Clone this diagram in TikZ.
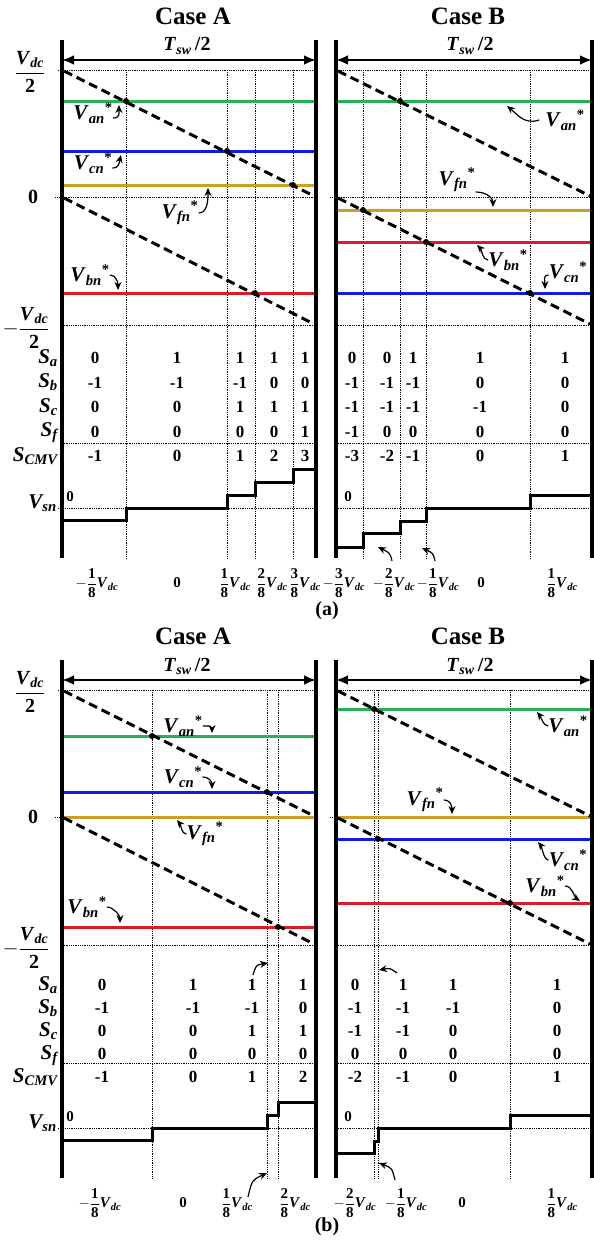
\documentclass[tikz,border=0pt]{standalone}
\usepackage{amsmath}
\usepackage{fontspec}
\setmainfont{Liberation Serif}
\usetikzlibrary{arrows.meta}
\definecolor{refgreen}{RGB}{35,178,85}
\definecolor{refblue}{RGB}{20,25,225}
\definecolor{refgold}{RGB}{205,160,35}
\definecolor{refred}{RGB}{215,30,40}
\newcommand{\vdc}{\textit{V}\textsubscript{\textit{dc}}}
\newcommand{\vstar}[1]{\textit{V}\textsubscript{\textit{#1}}\textsuperscript{*}}
\newcommand{\eighth}[2]{$#1\dfrac{\text{#2}}{\text{8}}$\vdc}
\newcommand{\halfdc}{$\genfrac{}{}{1.3pt}{0}{\text{\vdc}}{\text{2}}$}

\begin{document}
\begin{tikzpicture}[x=1pt, y=-1pt,
    every node/.style={inner sep=0pt, font=\bfseries\fontsize{15}{18}\selectfont},
    casehead/.style={font=\bfseries\fontsize{25}{28}\selectfont},
    tsw/.style={font=\bfseries\fontsize{20}{24}\selectfont},
    thickframe/.style={line width=4pt},
    gridline/.style={densely dotted, line width=0.8pt},
    carrier/.style={line width=3pt, dash pattern=on 9pt off 5pt},
    refline/.style={line width=3pt},
    stair/.style={line width=3pt},
    isect/.style={circle, fill, minimum size=6pt},
    vlab/.style={font=\bfseries\fontsize{21}{24}\selectfont},
    slab/.style={font=\bfseries\itshape\fontsize{21}{#1}\selectfont, align=right, anchor=east},
    valcol/.style={font=\bfseries\fontsize{17}{#1}\selectfont, align=center},
    ticklab/.style={font=\bfseries\fontsize{15}{17}\selectfont},
    axlab/.style={font=\bfseries\fontsize{20}{24}\selectfont},
    pointer/.style={-{Stealth[length=8pt,width=7pt]}, line width=1.2pt},
    spanarrow/.style={{Latex[length=12pt,width=10pt]}-{Latex[length=12pt,width=10pt]}, line width=2.5pt},
  ]
  \useasboundingbox (0,0) rectangle (594,1245);

  % what both panels share
  \foreach \p/\dy in {a/0, b/620}{
    \begin{scope}[shift={(0,\dy)}]
      \node[casehead] (\p-caseA) at (193,16) {Case A};
      \node[casehead] (\p-caseB) at (468,16) {Case B};
      \node[tsw] (\p-tswA) at (187,46) {\textit{T}\textsubscript{\textit{sw}}\,/2};
      \node[tsw] (\p-tswB) at (470,46) {\textit{T}\textsubscript{\textit{sw}}\,/2};
      \coordinate (\p-A0) at (62,60);  \coordinate (\p-A1) at (316,60);
      \coordinate (\p-B0) at (336,60); \coordinate (\p-B1) at (592,60);
      \draw[spanarrow] (\p-A0) -- (\p-A1);
      \draw[spanarrow] (\p-B0) -- (\p-B1);
      \draw[gridline] (58,70) -- (316,70) (336,70) -- (592,70);
      \draw[gridline] (55,197) -- (316,197) (330,197) -- (592,197);
      \draw[gridline] (62,325) -- (316,325) (336,325) -- (592,325);
      \draw[gridline] (62,443) -- (316,443) (336,443) -- (592,443);
      \draw[gridline] (58,508) -- (316,508) (336,508) -- (592,508);
      \node[axlab] (\p-top) at (30,72) {\halfdc};
      \node[axlab] (\p-zero) at (33,197) {0};
      \node[axlab] (\p-bot) at (26,328) {$-$\halfdc};
      \node[slab=24pt] (\p-vsn) at (57,503) {V\textsubscript{sn}};
      \node (\p-zA) at (70,497) {0};
      \node (\p-zB) at (348,497) {0};
      \draw[thickframe] (62,40) -- (62,558) (316,40) -- (316,558);
      \draw[thickframe] (336,40) -- (336,558) (592,40) -- (592,558);
    \end{scope}
  }

  % ---------- (a) ----------
  \draw[gridline] (126,70) -- (126,558) (227,70) -- (227,558) (255,70) -- (255,558) (293,70) -- (293,558);
  \draw[gridline] (363,70) -- (363,558) (400,70) -- (400,558) (426,70) -- (426,558) (530,70) -- (530,558);
  \draw[refline, refgreen] (64,101) -- (314,101);
  \draw[refline, refblue]  (64,151) -- (314,151);
  \draw[refline, refgold]  (64,185) -- (314,185);
  \draw[refline, refred]   (64,293) -- (314,293);
  \draw[refline, refgreen] (338,101) -- (590,101);
  \draw[refline, refgold]  (338,210) -- (590,210);
  \draw[refline, refred]   (338,242) -- (590,242);
  \draw[refline, refblue]  (338,293) -- (590,293);
  \draw[carrier] (64,71) -- (314,196) (64,198) -- (314,324);
  \draw[carrier] (338,71) -- (590,196) (338,198) -- (590,324);
  \node[isect] (a-d1) at (126,101) {}; \node[isect] (a-d2) at (227,151) {};
  \node[isect] (a-d3) at (293,185) {}; \node[isect] (a-d4) at (255,293) {};
  \node[isect] (a-d5) at (400,101) {}; \node[isect] (a-d6) at (363,210) {};
  \node[isect] (a-d7) at (426,242) {}; \node[isect] (a-d8) at (530,293) {};

  \node[vlab] (a-van) at (93,113) {\vstar{an}};
  \node[vlab] (a-vcn) at (93,163) {\vstar{cn}};
  \node[vlab] (a-vfn) at (180,213) {\vstar{fn}};
  \node[vlab] (a-vbn) at (90,275) {\vstar{bn}};
  \coordinate (a-tan) at (119,105); \coordinate (a-tcn) at (121,155);
  \coordinate (a-tfn) at (208,188); \coordinate (a-tbn) at (118,290);
  \draw[pointer] ([yshift=-5pt]a-van.east) .. controls +(7,0) and +(0,9) .. (a-tan);
  \draw[pointer] ([yshift=-5pt]a-vcn.east) .. controls +(7,0) and +(-2,8) .. (a-tcn);
  \draw[pointer] (a-vfn.east) .. controls +(9,0) and +(0,12) .. (a-tfn);
  \draw[pointer] (a-vbn.east) .. controls +(6,0) and +(0,-8) .. (a-tbn);

  \node[vlab] (b-van-a) at (565,120) {\vstar{an}};
  \node[vlab] (b-vfn-a) at (457,180) {\vstar{fn}};
  \node[vlab] (b-vbn-a) at (508,260) {\vstar{bn}};
  \node[vlab] (b-vcn-a) at (568,272) {\vstar{cn}};
  \coordinate (a-uan) at (507,106); \coordinate (a-ufn) at (493,207);
  \coordinate (a-ubn) at (477,245); \coordinate (a-ucn) at (545,289);
  \draw[pointer] ([xshift=-6pt]b-van-a.west) .. controls +(-15,5) and +(10,8) .. (a-uan);
  \draw[pointer] (b-vfn-a.south east) .. controls +(12,0) and +(0,-8) .. (a-ufn);
  \draw[pointer] (b-vbn-a.west) .. controls +(-6,0) and +(5,5) .. (a-ubn);
  \draw[pointer] ([yshift=-3pt]b-vcn-a.west) .. controls +(-6,0) and +(0,-8) .. (a-ucn);

  \node[slab=24.5pt] (a-rows) at (58,407) {S\textsubscript{a}\\S\textsubscript{b}\\S\textsubscript{c}\\S\textsubscript{f}\\S\textsubscript{CMV}};
  \node[valcol=24.5pt] (a-c1) at (95,407)  {0\\-1\\0\\0\\-1};
  \node[valcol=24.5pt] (a-c2) at (177,407) {1\\-1\\0\\0\\0};
  \node[valcol=24.5pt] (a-c3) at (240,407) {1\\-1\\1\\0\\1};
  \node[valcol=24.5pt] (a-c4) at (274,407) {1\\0\\1\\0\\2};
  \node[valcol=24.5pt] (a-c5) at (305,407) {1\\0\\1\\1\\3};
  \node[valcol=24.5pt] (a-c6) at (352,407) {0\\-1\\-1\\-1\\-3};
  \node[valcol=24.5pt] (a-c7) at (387,407) {0\\-1\\-1\\0\\-2};
  \node[valcol=24.5pt] (a-c8) at (413,407) {1\\-1\\-1\\0\\-1};
  \node[valcol=24.5pt] (a-c9) at (480,407) {1\\0\\-1\\0\\0};
  \node[valcol=24.5pt] (a-c10) at (565,407) {1\\0\\0\\0\\1};

  \draw[stair] (64,520) -| (126,508) -| (227,495) -| (255,482) -| (293,469) -- (314,469);
  \draw[stair] (338,547) -| (363,533) -| (400,521) -| (426,508) -| (530,495) -- (590,495);
  \coordinate (a-s1) at (392,561); \coordinate (a-s2) at (378,547);
  \coordinate (a-s3) at (435,561); \coordinate (a-s4) at (422,548);
  \draw[pointer] (a-s1) .. controls (390,553) .. (a-s2);
  \draw[pointer] (a-s3) .. controls (433,553) .. (a-s4);

  \node[ticklab] (a-x1) at (97,583)  {\eighth{-}{1}};
  \node[ticklab] (a-x2) at (177,583) {0};
  \node[ticklab] (a-x3) at (235,583) {\eighth{}{1}};
  \node[ticklab] (a-x4) at (272,583) {\eighth{}{2}};
  \node[ticklab] (a-x5) at (305,583) {\eighth{}{3}};
  \node[ticklab] (a-x6) at (344,583) {\eighth{-}{3}};
  \node[ticklab] (a-x7) at (394,583) {\eighth{-}{2}};
  \node[ticklab] (a-x8) at (438,583) {\eighth{-}{1}};
  \node[ticklab] (a-x9) at (481,583) {0};
  \node[ticklab] (a-x10) at (562,583) {\eighth{}{1}};
  \node[axlab] (a-cap) at (327,611) {(a)};

  % ---------- (b) ----------
  \begin{scope}[shift={(0,620)}]
  \draw[gridline] (152,70) -- (152,558) (267,70) -- (267,558) (278,70) -- (278,558);
  \draw[gridline] (374,70) -- (374,558) (378,70) -- (378,558) (510,70) -- (510,558);
  \draw[refline, refgreen] (64,116) -- (314,116);
  \draw[refline, refblue]  (64,172) -- (314,172);
  \draw[refline, refgold]  (64,197) -- (314,197);
  \draw[refline, refred]   (64,307) -- (314,307);
  \draw[refline, refgreen] (338,89) -- (590,89);
  \draw[refline, refgold]  (338,197) -- (590,197);
  \draw[refline, refblue]  (338,219) -- (590,219);
  \draw[refline, refred]   (338,283) -- (590,283);
  \draw[carrier] (64,71) -- (314,196) (64,198) -- (314,324);
  \draw[carrier] (338,71) -- (590,196) (338,198) -- (590,324);
  \node[isect] (b-d1) at (152,116) {}; \node[isect] (b-d2) at (267,172) {};
  \node[isect] (b-d3) at (278,307) {};
  \node[isect] (b-d4) at (374,89) {}; \node[isect] (b-d5) at (378,219) {};
  \node[isect] (b-d6) at (510,283) {};

  \node[vlab] (b-van) at (183,106) {\vstar{an}};
  \node[vlab] (b-vcn) at (183,157) {\vstar{cn}};
  \node[vlab] (b-vfn) at (205,214) {\vstar{fn}};
  \node[vlab] (b-vbn) at (87,287) {\vstar{bn}};
  \coordinate (b-tan) at (212,113); \coordinate (b-tcn) at (212,169);
  \coordinate (b-tfn) at (177,200); \coordinate (b-tbn) at (120,303);
  \draw[pointer] (b-van.east) .. controls +(7,0) and +(0,-7) .. (b-tan);
  \draw[pointer] (b-vcn.east) .. controls +(7,0) and +(0,-7) .. (b-tcn);
  \draw[pointer] (b-vfn.west) .. controls +(-5,0) and +(4,5) .. (b-tfn);
  \draw[pointer] (b-vbn.east) .. controls +(7,0) and +(0,-7) .. (b-tbn);

  \node[vlab] (b-van-b) at (568,106) {\vstar{an}};
  \node[vlab] (b-vfn-b) at (425,180) {\vstar{fn}};
  \node[vlab] (b-vcn-b) at (568,240) {\vstar{cn}};
  \node[vlab] (b-vbn-b) at (545,266) {\vstar{bn}};
  \coordinate (b-uan) at (537,92);  \coordinate (b-ufn) at (452,194);
  \coordinate (b-ucn) at (538,222); \coordinate (b-ubn) at (580,281);
  \draw[pointer] (b-van-b.west) .. controls +(-5,0) and +(4,5) .. (b-uan);
  \draw[pointer] (b-vfn-b.east) .. controls +(7,0) and +(0,-8) .. (b-ufn);
  \draw[pointer] (b-vcn-b.west) .. controls +(-5,0) and +(4,5) .. (b-ucn);
  \draw[pointer] (b-vbn-b.east) .. controls +(8,0) and +(-6,-4) .. (b-ubn);

  \node[slab=23pt] (b-rows) at (58,411) {S\textsubscript{a}\\S\textsubscript{b}\\S\textsubscript{c}\\S\textsubscript{f}\\S\textsubscript{CMV}};
  \node[valcol=23pt] (b-c1) at (102,411) {0\\-1\\0\\0\\-1};
  \node[valcol=23pt] (b-c2) at (193,411) {1\\-1\\0\\0\\0};
  \node[valcol=23pt] (b-c3) at (252,411) {1\\-1\\1\\0\\1};
  \node[valcol=23pt] (b-c4) at (303,411) {1\\0\\1\\0\\2};
  \node[valcol=23pt] (b-c5) at (355,411) {0\\-1\\-1\\0\\-2};
  \node[valcol=23pt] (b-c6) at (403,411) {1\\-1\\-1\\0\\-1};
  \node[valcol=23pt] (b-c7) at (453,411) {1\\-1\\0\\0\\0};
  \node[valcol=23pt] (b-c8) at (557,411) {1\\0\\0\\0\\1};

  \draw[stair] (64,520) -| (152,508) -| (267,495) -| (278,482) -- (314,482);
  \draw[stair] (338,533) -| (374,521) -| (378,508) -| (510,495) -- (590,495);
  \coordinate (b-s1) at (253,355); \coordinate (b-s2) at (268,343);
  \coordinate (b-s3) at (248,577); \coordinate (b-s4) at (267,553);
  \coordinate (b-s5) at (397,353); \coordinate (b-s6) at (379,350);
  \coordinate (b-s7) at (395,560); \coordinate (b-s8) at (379,543);
  \draw[pointer] (b-s1) .. controls (256,345) .. (b-s2);
  \draw[pointer] (b-s3) .. controls (252,560) .. (b-s4);
  \draw[pointer] (b-s5) .. controls (390,348) .. (b-s6);
  \draw[pointer] (b-s7) .. controls (392,548) .. (b-s8);

  \node[ticklab] (b-x1) at (100,583) {\eighth{-}{1}};
  \node[ticklab] (b-x2) at (183,583) {0};
  \node[ticklab] (b-x3) at (237,583) {\eighth{}{1}};
  \node[ticklab] (b-x4) at (295,583) {\eighth{}{2}};
  \node[ticklab] (b-x5) at (355,583) {\eighth{-}{2}};
  \node[ticklab] (b-x6) at (406,583) {\eighth{-}{1}};
  \node[ticklab] (b-x7) at (462,583) {0};
  \node[ticklab] (b-x8) at (562,583) {\eighth{}{1}};
  \node[axlab] (b-cap) at (327,607) {(b)};
  \end{scope}
\end{tikzpicture}
\end{document}
